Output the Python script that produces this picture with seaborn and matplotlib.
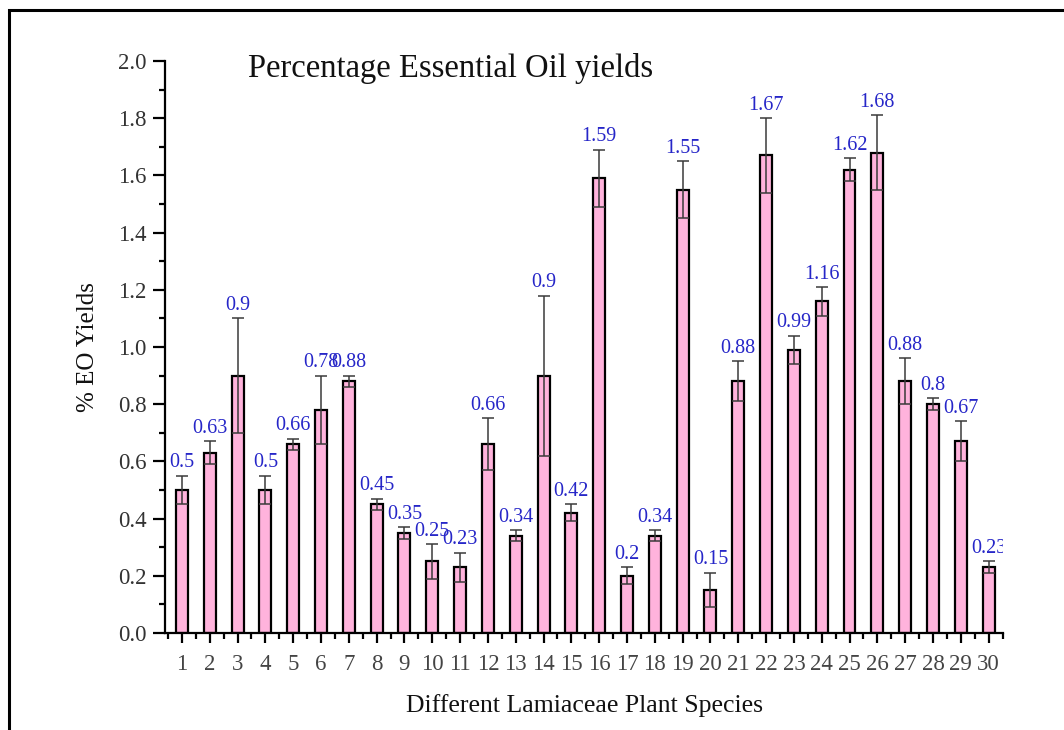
import numpy as np
import pandas as pd
import matplotlib
matplotlib.use("Agg")
import matplotlib.pyplot as plt
from matplotlib.patches import Rectangle
from matplotlib.ticker import MultipleLocator, FixedLocator
import seaborn as sns

# Essential-oil yield (%) for each Lamiaceae species, with standard deviation
species = [str(i) for i in range(1, 31)]
yields = [0.5, 0.63, 0.9, 0.5, 0.66, 0.78, 0.88, 0.45, 0.35, 0.25,
          0.23, 0.66, 0.34, 0.9, 0.42, 1.59, 0.2, 0.34, 1.55, 0.15,
          0.88, 1.67, 0.99, 1.16, 1.62, 1.68, 0.88, 0.8, 0.67, 0.23]
sd = [0.05, 0.04, 0.2, 0.05, 0.02, 0.12, 0.02, 0.02, 0.02, 0.06,
      0.05, 0.09, 0.02, 0.28, 0.03, 0.10, 0.03, 0.02, 0.10, 0.06,
      0.07, 0.13, 0.05, 0.05, 0.04, 0.13, 0.08, 0.02, 0.07, 0.02]

df = pd.DataFrame({"species": species, "yield": yields, "sd": sd})

sns.set_theme(style="ticks")
plt.rcParams["font.family"] = ["Liberation Serif", "DejaVu Serif"]

fig = plt.figure(figsize=(10.64, 7.30), dpi=100)
ax = fig.add_axes([0.155, 0.1329, 0.788, 0.7835])

sns.barplot(data=df, x="species", y="yield", order=species, color="#ffb3dc",
            saturation=1, width=0.43, edgecolor="black", linewidth=1.6,
            errorbar=None, ax=ax)

xpos = np.arange(len(species))
ax.errorbar(xpos, df["yield"], yerr=df["sd"], fmt="none", ecolor="#3a3a3a",
            elinewidth=1.1, capsize=4.6, capthick=1.1, zorder=3)

for x, v, e in zip(xpos, df["yield"], df["sd"]):
    ax.text(x, v + e + 0.012, f"{v:g}", ha="center", va="bottom",
            fontsize=14.5, color="#2626c8", clip_on=True, zorder=4)

ax.set_ylim(0, 2.0)
ax.set_xlim(-0.61, 29.53)
ax.yaxis.set_major_locator(MultipleLocator(0.2))
ax.yaxis.set_minor_locator(MultipleLocator(0.1))
ax.xaxis.set_minor_locator(FixedLocator(np.arange(-0.5, 30, 1.0)))
ax.set_yticks(np.arange(0, 2.01, 0.2))
ax.set_yticklabels([f"{t:.1f}" for t in np.arange(0, 2.01, 0.2)])

sns.despine(ax=ax)
for side in ("left", "bottom"):
    ax.spines[side].set_linewidth(1.6)
    ax.spines[side].set_color("black")

ax.tick_params(axis="y", which="major", direction="out", length=9, width=1.6,
               labelsize=16.5, colors="black", labelcolor="#333333", pad=4)
ax.tick_params(axis="y", which="minor", direction="out", length=4, width=1.6,
               color="black")
ax.tick_params(axis="x", which="major", direction="out", length=7, width=1.6,
               labelsize=16.5, colors="black", labelcolor="#444444", pad=8)
ax.tick_params(axis="x", which="minor", direction="out", length=4, width=1.6,
               color="black")

ax.set_xlabel("Different Lamiaceae Plant Species", fontsize=18.5,
              color="#111111", labelpad=14)
ax.set_ylabel("% EO Yields", fontsize=18, color="#111111")
ax.yaxis.set_label_coords(-0.079, 0.5)

ax.text(0.099, 0.987, "Percentage Essential Oil yields", transform=ax.transAxes,
        ha="left", va="center", fontsize=23.5, color="#111111")

# frame around the figure (left and top edges visible)
fig.add_artist(Rectangle((9 / 1064, -0.2), 1.5, (730 - 10) / 730 + 0.2,
                         transform=fig.transFigure, fill=False,
                         edgecolor="black", linewidth=2.2, clip_on=False))

fig.savefig("out.png", dpi=100, facecolor="white")
